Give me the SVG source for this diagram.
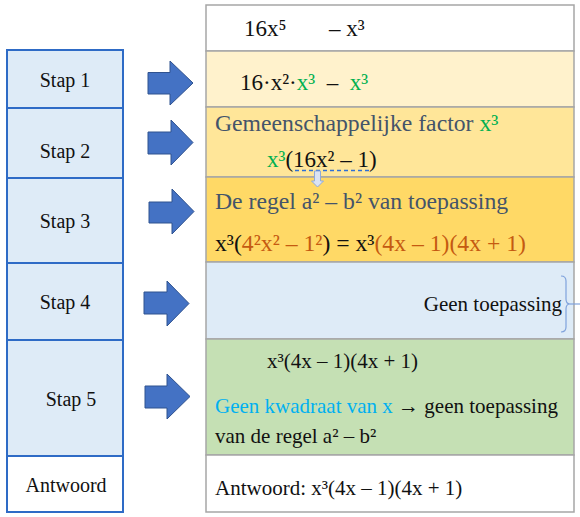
<svg xmlns="http://www.w3.org/2000/svg" width="580" height="517" viewBox="0 0 580 517">
<style>
.lcell{fill:#DEEBF7;stroke:#2E6BC6;stroke-width:2}
.lwhite{fill:#FFFFFF;stroke:#2E6BC6;stroke-width:2}
.rcell{stroke:#A6A6A6;stroke-width:1.5}
text{font-family:"Liberation Serif","DejaVu Serif",serif}
.lt{font-size:20px;fill:#111;text-anchor:middle}
.t23{font-size:23px;fill:#111}
.t24{font-size:23.7px;fill:#111}
.t21{font-size:21px;fill:#111}
.g{fill:#00B050}
.db{fill:#44546A}
.or{fill:#C55A11}
.cy{fill:#00B0F0}
.arr{fill:#4472C4;stroke:#2F528F;stroke-width:1}
</style>
<rect width="580" height="517" fill="#FFFFFF"/>
<g id="right-column">
<rect class="rcell" x="206" y="5" width="368" height="46" fill="#FFFFFF"/>
<rect class="rcell" x="206" y="51" width="368" height="56" fill="#FFF2CC"/>
<rect class="rcell" x="206" y="107" width="368" height="70" fill="#FFE699"/>
<rect class="rcell" x="206" y="177" width="368" height="85" fill="#FFD966"/>
<rect class="rcell" x="206" y="262" width="368" height="77" fill="#DEEBF7"/>
<rect class="rcell" x="206" y="339" width="368" height="116" fill="#C5E0B4"/>
<rect class="rcell" x="206" y="455" width="368" height="57" fill="#FFFFFF"/>
</g>
<g id="left-column">
<g id="stap1"><rect class="lcell" x="7" y="50" width="116" height="58"/><text class="lt" x="65" y="87">Stap 1</text></g>
<g id="stap2"><rect class="lcell" x="7" y="108" width="116" height="70"/><text class="lt" x="65" y="158">Stap 2</text></g>
<g id="stap3"><rect class="lcell" x="7" y="178" width="116" height="85"/><text class="lt" x="65" y="228">Stap 3</text></g>
<g id="stap4"><rect class="lcell" x="7" y="263" width="116" height="77"/><text class="lt" x="65" y="309">Stap 4</text></g>
<g id="stap5"><rect class="lcell" x="7" y="340" width="116" height="116"/><text class="lt" x="71" y="406">Stap 5</text></g>
<g id="antwoord"><rect class="lwhite" x="7" y="456" width="116" height="56"/><text class="lt" x="66" y="492">Antwoord</text></g>
</g>
<g id="connectors">
<polygon class="arr" points="148,72.5 170,72.5 170,61 193,83 170,105 170,94 148,94"/>
<polygon class="arr" points="148,132 171,132 171,120 193,142.5 171,165 171,154 148,154"/>
<polygon class="arr" points="149,202 172,202 172,189 194,211.5 172,234 172,223 149,223"/>
<polygon class="arr" points="144,292 167,292 167,281 189,303.5 167,326 167,314 144,314"/>
<polygon class="arr" points="145,386 167,386 167,374 190,396.5 167,419 167,408 145,408"/>
<line x1="295" y1="170.5" x2="370" y2="170.5" stroke="#2F6FD6" stroke-width="1.5" stroke-dasharray="4,3"/>
<polygon points="314.5,171 320.5,171 320.5,181 323.5,181 317.5,187 311.5,181 314.5,181" fill="#DAE3F3" stroke="#8FAADC" stroke-width="1"/>
<path d="M561,276 Q566,276 566,281 L566,299 Q566,304 570,304 Q566,304 566,309 L566,327 Q566,332 561,332" fill="none" stroke="#7FA2DC" stroke-width="1.2"/>
<line x1="570" y1="304" x2="580" y2="304" stroke="#7FA2DC" stroke-width="1.2"/>
</g>
<g id="row0"><text class="t23" x="244" y="36">16x⁵</text><text class="t23" x="329" y="36">– x³</text></g>
<g id="row1"><text class="t23" x="240" y="90">16·x²·<tspan class="g">x³</tspan>&#160;&#160;–&#160;&#160;<tspan class="g">x³</tspan></text></g>
<g id="row2">
<text class="t24 db" x="215" y="131">Gemeenschappelijke factor <tspan class="g">x³</tspan></text>
<text class="t23" x="267" y="167"><tspan class="g">x³</tspan>(16x² – 1)</text>
</g>
<g id="row3">
<text class="t24 db" x="215" y="209">De regel a² – b² van toepassing</text>
<text class="t24" x="215" y="251">x³(<tspan class="or">4²x² – 1²</tspan>) = x³<tspan class="or">(4x – 1)(4x + 1)</tspan></text>
</g>
<g id="row4"><text class="t21" x="562" y="311" text-anchor="end">Geen toepassing</text></g>
<g id="row5">
<text class="t21" x="267" y="368">x³(4x – 1)(4x + 1)</text>
<text class="t21" x="215" y="413"><tspan class="cy">Geen kwadraat van x</tspan> → geen toepassing</text>
<text class="t21" x="215" y="443">van de regel a² – b²</text>
</g>
<g id="row6"><text class="t21" x="215" y="495">Antwoord: x³(4x – 1)(4x + 1)</text></g>
</svg>
